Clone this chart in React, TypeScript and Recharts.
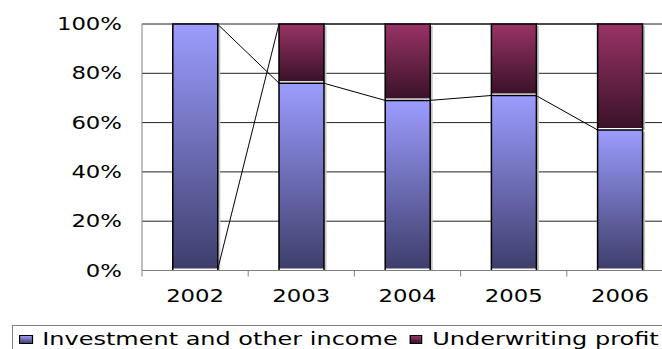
import { Bar, BarChart, CartesianGrid, ReferenceLine, XAxis, YAxis } from "recharts";

const years = ["2002", "2003", "2004", "2005", "2006"];
const investment = [100, 76, 69, 71, 57];
const underwriting = [0, 24, 31, 29, 43];
const yTicks = [0, 20, 40, 60, 80, 100];

const seriesNames = ["Investment and other income", "Underwriting profit"];
const seriesColors = [
  ["#9c9cff", "#3e3e6c"],
  ["#993366", "#3a1228"],
];

// slot = running index of the category, so a numeric twin axis can reach the bar edges
const data = years.map((year, i) => ({ year, slot: i + 0.5, investment: investment[i], underwriting: underwriting[i] }));

const FONT = "Verdana, 'DejaVu Sans', sans-serif";
const GAP = 0.29; // category gap on each side, as a fraction of the band
const HALF = 0.5 - GAP;
const SX = 1.34; // the source text is stretched sideways
const LABEL_GAP = 25;

// tops of each stacked series, for the Excel-style series lines
const invTops = investment;
const uwTops = investment.map((v, i) => (underwriting[i] > 0 ? v + underwriting[i] : 0));
const seriesLines = [invTops, uwTops].flatMap(tops =>
  tops.slice(0, -1).map((t, i) => [
    { x: data[i].slot + HALF, y: t },
    { x: data[i + 1].slot - HALF, y: tops[i + 1] },
  ])
);

function YTick({ x, y, payload }: any) {
  return (
    <text transform={`translate(${x},${y}) scale(${SX},1)`} textAnchor="end" dy="0.36em" fontSize={17} fontFamily={FONT} fill="#000">
      {payload.value}%
    </text>
  );
}

// label in the middle of the category, tick mark on its left boundary (Excel style)
function XTick({ x, y, payload }: any) {
  const edge = payload.offset != null ? x - payload.offset : null;
  const axisY = y - LABEL_GAP;
  return (
    <g>
      {edge != null && <line x1={edge} x2={edge} y1={axisY} y2={axisY + 6} stroke="#808080" />}
      <text transform={`translate(${x},${y}) scale(${SX},1)`} textAnchor="middle" dy="0.36em" fontSize={17} fontFamily={FONT} fill="#000">
        {payload.value}
      </text>
    </g>
  );
}

function barShape(gradId: string) {
  return (props: any) => {
    const { x, y, width, height } = props;
    if (!height || height <= 0) return <g />;
    return (
      <g>
        <rect x={x + width + 0.5} y={y + 2} width={2} height={Math.max(0, height - 2)} fill="#c4c4c4" />
        <rect x={x} y={y} width={width} height={Math.max(0, height - 2)} fill={`url(#${gradId})`} />
        <path d={`M${x},${y + height}V${y}H${x + width}V${y + height}`} fill="none" stroke="#000" strokeWidth={1.5} />
      </g>
    );
  };
}

export default function App() {
  return (
    <div style={{ position: "absolute", left: 0, top: 0, width: 662, height: 349, overflow: "hidden", background: "#fff" }}>
      <BarChart
        width={690}
        height={349}
        data={data}
        margin={{ top: 24, right: 17, bottom: 38.5, left: 0 }}
        barCategoryGap={`${GAP * 100}%`}
      >
        <defs>
          {seriesColors.map(([top, bottom], i) => (
            <linearGradient key={i} id={`g${i}`} x1="0" y1="0" x2="0" y2="1">
              <stop offset="0%" stopColor={top} />
              <stop offset="100%" stopColor={bottom} />
            </linearGradient>
          ))}
        </defs>
        <CartesianGrid vertical={false} stroke="#222" />
        <XAxis xAxisId="s" dataKey="slot" type="number" domain={[0, 5]} allowDataOverflow hide />
        <XAxis
          dataKey="year"
          tick={<XTick />}
          tickLine={false}
          tickSize={0}
          tickMargin={LABEL_GAP}
          height={40}
          axisLine={{ stroke: "#808080" }}
        />
        <YAxis
          domain={[0, 100]}
          ticks={yTicks}
          tick={<YTick />}
          tickLine={false}
          tickSize={0}
          tickMargin={20}
          width={142}
          axisLine={{ stroke: "#808080" }}
        />
        <Bar dataKey="investment" stackId="a" shape={barShape("g0")} isAnimationActive={false} />
        <Bar dataKey="underwriting" stackId="a" shape={barShape("g1")} isAnimationActive={false} />
        {seriesLines.map((seg, i) => (
          <ReferenceLine key={i} xAxisId="s" segment={seg} stroke="#000" strokeWidth={1} />
        ))}
      </BarChart>
      <div
        style={{
          position: "absolute",
          left: 12,
          top: 325,
          width: 680,
          height: 40,
          border: "1px solid #808080",
          boxSizing: "border-box",
          fontFamily: FONT,
          fontSize: 17,
        }}
      >
        <div
          style={{
            display: "flex",
            alignItems: "center",
            transform: "scaleX(1.41)",
            transformOrigin: "0 0",
            marginLeft: 6,
            marginTop: 3,
            whiteSpace: "nowrap",
            lineHeight: "20px",
          }}
        >
          {seriesNames.map((name, i) => (
            <span key={name} style={{ display: "flex", alignItems: "center", marginRight: 8 }}>
              <span
                style={{
                  display: "inline-block",
                  width: 9.5,
                  height: 9,
                  boxSizing: "border-box",
                  border: "1.5px solid #000",
                  background: `linear-gradient(${seriesColors[i][0]}, ${seriesColors[i][1]})`,
                  marginRight: 7,
                }}
              />
              {name}
            </span>
          ))}
        </div>
      </div>
    </div>
  );
}
